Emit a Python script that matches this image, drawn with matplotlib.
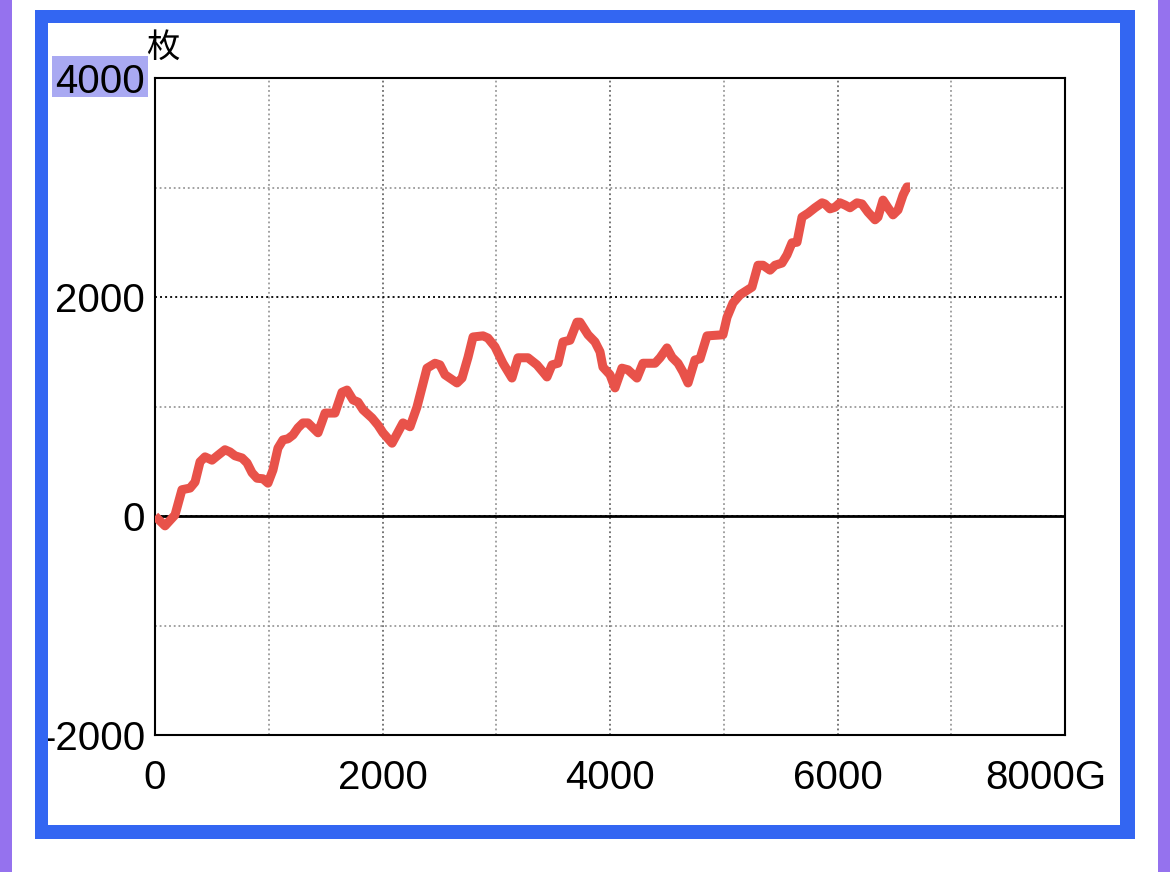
import matplotlib
matplotlib.use("Agg")
import matplotlib.pyplot as plt
from matplotlib.patches import Rectangle

plt.rcParams['font.family'] = ['Liberation Sans', 'Noto Sans CJK JP', 'DejaVu Sans']
plt.rcParams['axes.unicode_minus'] = False

# games played (G) and medal difference (枚)
games = [0, 88, 176, 237, 308, 352, 396, 440, 501, 554, 615, 659, 703, 765, 809,
         853, 897, 949, 993, 1037, 1081, 1125, 1169, 1213, 1257, 1301, 1345, 1389,
         1433, 1468, 1495, 1582, 1644, 1688, 1741, 1785, 1829, 1908, 1960, 2004,
         2084, 2180, 2242, 2303, 2391, 2462, 2505, 2549, 2655, 2699, 2752, 2796,
         2884, 2927, 2989, 3059, 3138, 3191, 3279, 3358, 3411, 3446, 3490, 3543,
         3587, 3648, 3710, 3736, 3807, 3868, 3912, 3938, 4000, 4044, 4105, 4158,
         4237, 4290, 4396, 4440, 4501, 4545, 4598, 4642, 4686, 4747, 4791, 4853,
         4993, 5029, 5081, 5143, 5248, 5301, 5345, 5407, 5451, 5512, 5556, 5600,
         5644, 5688, 5741, 5802, 5864, 5890, 5934, 5978, 6022, 6066, 6110, 6171,
         6215, 6268, 6330, 6356, 6400, 6444, 6488, 6532, 6576, 6611, 6637]
medals = [0, -90, 10, 240, 255, 310, 495, 540, 510, 555, 605, 585, 550, 530, 485,
          395, 345, 340, 300, 420, 620, 695, 705, 740, 805, 850, 850, 805,
          760, 860, 940, 940, 1130, 1150, 1060, 1040, 970, 895, 830, 760,
          665, 850, 815, 995, 1350, 1395, 1380, 1290, 1215, 1260, 1450, 1635,
          1645, 1625, 1545, 1395, 1260, 1445, 1445, 1380, 1315, 1270, 1380, 1395,
          1590, 1605, 1770, 1770, 1655, 1590, 1500, 1360, 1290, 1170, 1350, 1335,
          1260, 1395, 1395, 1445, 1535, 1450, 1395, 1315, 1215, 1425, 1435, 1645,
          1655, 1815, 1945, 2020, 2090, 2290, 2290, 2245, 2290, 2310, 2385, 2495,
          2500, 2730, 2765, 2815, 2860, 2850, 2805, 2820, 2860, 2840, 2815, 2860,
          2850, 2775, 2705, 2730, 2885, 2815, 2750, 2795, 2930, 3005, 3005]

x_ticks = [0, 2000, 4000, 6000]
x_labels = ['0', '2000', '4000', '6000']
y_ticks = [-2000, 0, 2000, 4000]
y_labels = ['-2000', '0', '2000', '4000']

W, H = 1170, 872
fig = plt.figure(figsize=(W / 100, H / 100), dpi=100)
fig.patch.set_facecolor('white')


def px_rect(x0, y0, x1, y1, color, z):
    r = Rectangle((x0 / W, 1 - y1 / H), (x1 - x0) / W, (y1 - y0) / H,
                  transform=fig.transFigure, facecolor=color, edgecolor='none', zorder=z)
    fig.add_artist(r)


# purple page edges and blue frame
purple = '#9572EE'
blue = '#3366F2'
px_rect(0, 0, 12, H, purple, 5)
px_rect(1158, 0, W, H, purple, 5)
px_rect(35, 10, 1135, 23, blue, 5)
px_rect(35, 825, 1135, 839, blue, 5)
px_rect(35, 10, 48, 839, blue, 5)
px_rect(1120, 10, 1135, 839, blue, 5)
# highlight behind the top label
px_rect(52, 56, 148, 97, '#A9A9F2', -1)

ax = fig.add_axes([155 / W, 1 - 735 / H, 910 / W, 657 / H])
ax.set_facecolor('none')
ax.plot(games, medals, color='#E8524A', lw=6.5, solid_joinstyle='round',
        solid_capstyle='butt', zorder=4)

ax.set_xlim(0, 8000)
ax.set_ylim(-2000, 4000)
ax.set_xticks(x_ticks)
ax.set_xticklabels(x_labels)
ax.set_xticks([1000, 3000, 5000, 7000], minor=True)
ax.set_yticks(y_ticks)
ax.set_yticklabels(y_labels)
ax.set_yticks([-1000, 1000, 3000], minor=True)
ax.tick_params(which='both', length=0)
ax.tick_params(axis='x', labelsize=29, pad=17)
ax.tick_params(axis='y', labelsize=29, pad=7)

dots = (0, (1, 1.6))
ax.grid(which='minor', color='#9a9a9a', lw=1.3, ls=dots)
ax.xaxis.grid(which='major', color='#6a6a6a', lw=1.3, ls=dots)
ax.yaxis.grid(which='major', color='#111111', lw=1.4, ls=dots)
ax.set_axisbelow(True)
ax.axhline(0, color='black', lw=2, zorder=3)

for s in ax.spines.values():
    s.set_linewidth(1.5)
    s.set_color('black')

ax.annotate('8000G', xy=(1, 0), xycoords='axes fraction', xytext=(41, -24),
            textcoords='offset pixels', ha='right', va='top', fontsize=29)
ax.annotate('枚', xy=(0, 1), xycoords='axes fraction', xytext=(8, 30),
            textcoords='offset pixels', ha='center', va='center', fontsize=24)

fig.savefig('out.png', dpi=100)
